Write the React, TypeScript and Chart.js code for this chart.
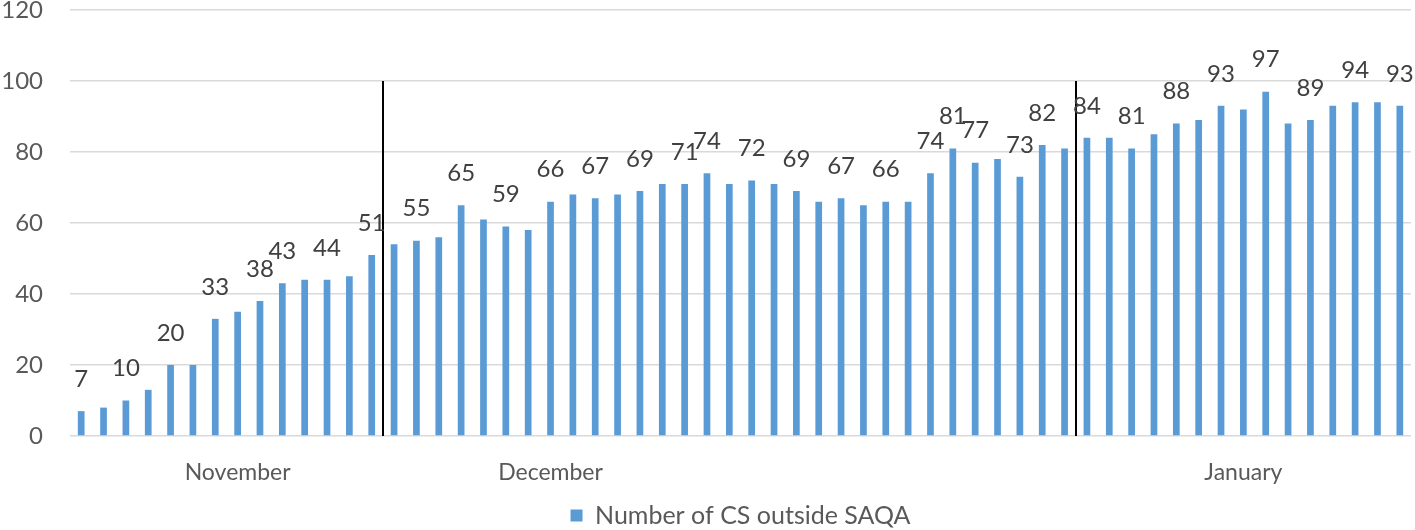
import React, { useEffect, useRef } from "react";
import { Chart, registerables } from "chart.js";

Chart.register(...registerables);

const values: number[] = [
  7, 8, 10, 13, 20, 20, 33, 35, 38, 43, 44, 44, 45, 51,
  54, 55, 56, 65, 61, 59, 58, 66, 68, 67, 68, 69, 71, 71, 74, 71,
  72, 71, 69, 66, 67, 65, 66, 66, 74, 81, 77, 78, 73, 82, 81,
  84, 84, 81, 85, 88, 89, 93, 92, 97, 88, 89, 93, 94, 94, 93,
];

const monthLabels: { index: number; name: string }[] = [
  { index: 7, name: "November" },
  { index: 21, name: "December" },
  { index: 52, name: "January" },
];

const labeledIndices: number[] = [
  0, 2, 4, 6, 8, 9, 11, 13, 15, 17, 19, 21, 23, 25, 27, 28, 30, 32, 34, 36,
  38, 39, 40, 42, 43, 45, 47, 49, 51, 53, 55, 57, 59,
];

// month separators sit between index i and i + 1
const separatorsAfter: number[] = [13, 44];
const separatorTopValue = 100;

const yTicks: number[] = [0, 20, 40, 60, 80, 100, 120];

const seriesName = "Number of CS outside SAQA";
const FONT = "Lato, 'Open Sans', sans-serif";

const categories: string[] = values.map((_, i) => {
  const m = monthLabels.find((x) => x.index === i);
  return m ? m.name : "";
});

const extrasPlugin = {
  id: "extras",
  afterDatasetsDraw(chart: any) {
    const ctx = chart.ctx;
    const xs = chart.scales.x;
    const ys = chart.scales.y;
    const meta = chart.getDatasetMeta(0);
    ctx.save();
    ctx.strokeStyle = "#000000";
    ctx.lineWidth = 2;
    separatorsAfter.forEach((i) => {
      const x = (xs.getPixelForValue(i) + xs.getPixelForValue(i + 1)) / 2;
      ctx.beginPath();
      ctx.moveTo(Math.round(x), ys.getPixelForValue(separatorTopValue));
      ctx.lineTo(Math.round(x), ys.getPixelForValue(0));
      ctx.stroke();
    });
    ctx.restore();
    ctx.save();
    ctx.font = `24px ${FONT}`;
    ctx.fillStyle = "#404040";
    ctx.textAlign = "center";
    ctx.textBaseline = "middle";
    labeledIndices.forEach((i) => {
      const el = meta.data[i];
      if (!el) return;
      ctx.fillText(String(values[i]), el.x, el.y - 32);
    });
    ctx.restore();
  },
};

function clearPadding(scale: any) {
  scale.paddingTop = 0;
  scale.paddingBottom = 0;
  scale.paddingLeft = 0;
  scale.paddingRight = 0;
}

export default function App() {
  const canvasRef = useRef<HTMLCanvasElement | null>(null);

  useEffect(() => {
    document.body.style.margin = "0";
    const canvas = canvasRef.current;
    if (!canvas) return;
    const chart = new Chart(canvas, {
      type: "bar",
      data: {
        labels: categories,
        datasets: [
          {
            label: seriesName,
            data: values,
            backgroundColor: "#5B9BD5",
            borderWidth: 0,
            barPercentage: 0.3,
            categoryPercentage: 1,
          },
        ],
      },
      options: {
        animation: false,
        responsive: false,
        maintainAspectRatio: false,
        layout: { padding: { top: 10, right: 4, left: 0, bottom: -8 } },
        plugins: {
          legend: {
            position: "bottom",
            fullSize: false,
            labels: {
              boxWidth: 12,
              boxHeight: 12,
              padding: 3,
              color: "#595959",
              font: { family: FONT, size: 25 },
            },
          },
          tooltip: { enabled: false },
        },
        scales: {
          x: {
            grid: { display: false, drawTicks: false },
            border: { display: false },
            ticks: {
              autoSkip: false,
              maxRotation: 0,
              minRotation: 0,
              padding: 23,
              color: "#595959",
              font: { family: FONT, size: 23 },
            },
            afterFit(scale: any) {
              scale.height = 64;
              clearPadding(scale);
            },
          },
          y: {
            min: 0,
            max: 120,
            afterBuildTicks(scale: any) {
              scale.ticks = yTicks.map((v) => ({ value: v }));
            },
            grid: { color: "#D9D9D9", lineWidth: 1.5, drawTicks: false },
            border: { display: false },
            ticks: {
              padding: 27,
              color: "#595959",
              font: { family: FONT, size: 24, lineHeight: 0.8 },
            },
            afterFit(scale: any) {
              scale.width = 70;
              clearPadding(scale);
            },
          },
        },
      },
      plugins: [extrasPlugin],
    });
    return () => chart.destroy();
  }, []);

  return (
    <div style={{ width: 1415, height: 530, position: "relative" }}>
      <canvas ref={canvasRef} width={1415} height={530} style={{ width: 1415, height: 530, display: "block" }} />
    </div>
  );
}
